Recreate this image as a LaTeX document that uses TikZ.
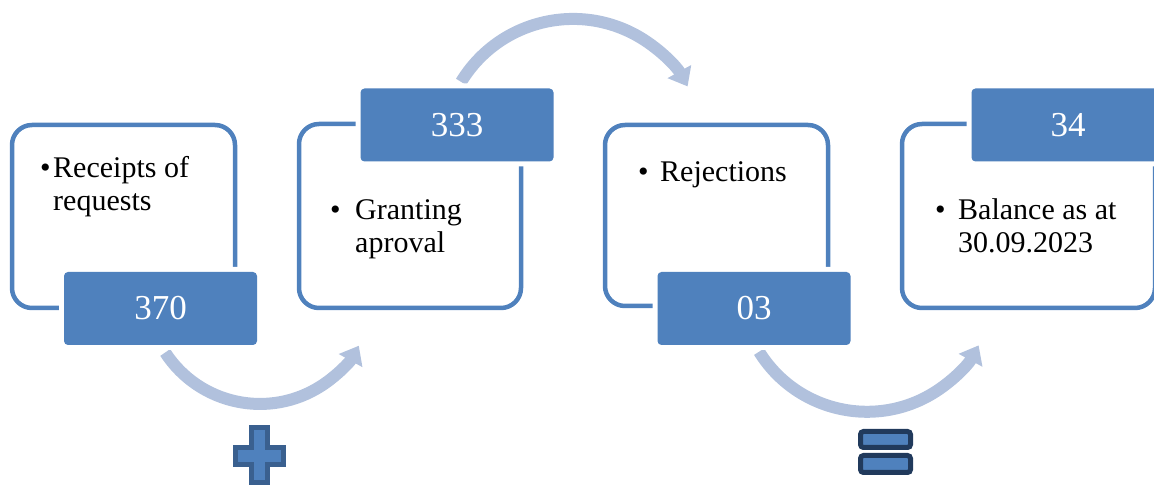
\documentclass[tikz,border=0pt]{standalone}
\usepackage{fontspec}
\setmainfont{Liberation Serif}
\usetikzlibrary{arrows.meta}

\definecolor{boxblue}{RGB}{79,129,189}
\definecolor{flowblue}{RGB}{177,193,221}
\definecolor{plusedge}{RGB}{58,96,143}
\definecolor{eqedge}{RGB}{33,58,92}

\tikzset{
  outbox/.style={draw=boxblue, line width=4.5pt, rounded corners=20pt},
  numbox/.style={fill=boxblue, rounded corners=4pt, text=white,
    font=\fontsize{35}{40}\selectfont, minimum width=193pt, minimum height=73pt,
    preaction={draw=white, line width=10pt}},
  itemtext/.style={anchor=base west, inner sep=0pt, font=\fontsize{30}{33}\selectfont},
  flow/.style={draw=flowblue, line width=12pt, -{Triangle[length=17pt,width=26pt]}},
  signshape/.style={fill=boxblue, line width=5pt}
}

\begin{document}
\begin{tikzpicture}[x=1pt,y=1pt]
            \clip (0,0) rectangle (1154,486);

            % curved flows between the steps
            \coordinate (f1) at (165.2,133.5);
            \draw[flow] (f1) arc[start angle=213, end angle=331, radius=113];
            \coordinate (f2) at (461.1,404.1);
            \draw[flow] (f2) arc[start angle=148.7, end angle=29, radius=131];
            \coordinate (f3) at (759.1,134.3);
            \draw[flow] (f3) arc[start angle=211.8, end angle=331.5, radius=127];

            % step frames
            \node[outbox, minimum width=223pt, minimum height=183pt] (recv) at (123.5,269.5) {};
            \node[outbox, minimum width=222pt, minimum height=184pt] (grant) at (410,270) {};
            \node[outbox, minimum width=223pt, minimum height=181pt] (reject) at (716.5,270.5) {};
            \node[outbox, minimum width=253pt, minimum height=184pt] (bal) at (1028.5,270) {};

            % figures
            \node[numbox] (n370) at (160.5,177.5) {370};
            \node[numbox] (n333) at (457,361) {333};
            \node[numbox] (n03) at (754,177.5) {03};
            \node[numbox] (n34) at (1068,361) {34};

            % texts
            \node[itemtext] (recvdot) at (40,308) {\textbullet};
            \node[itemtext] (recvtxt) at (53,308) {\parbox[t]{170pt}{Receipts of\\requests}};
            \node[itemtext] (grantdot) at (330,266) {\textbullet};
            \node[itemtext] (granttxt) at (355,266) {\parbox[t]{160pt}{Granting\\aproval}};
            \node[itemtext] (rejectdot) at (638,304) {\textbullet};
            \node[itemtext] (rejecttxt) at (660,304) {Rejections};
            \node[itemtext] (baldot) at (935,266) {\textbullet};
            \node[itemtext] (baltxt) at (958,266) {\parbox[t]{180pt}{Balance as at\\30.09.2023}};

            % plus and equals signs
            \draw[signshape, draw=plusedge] (251.5,58.5) -- (267.5,58.5) -- (267.5,38.5)
                -- (283.5,38.5) -- (283.5,21.5) -- (267.5,21.5) -- (267.5,3.5)
                -- (251.5,3.5) -- (251.5,21.5) -- (235.5,21.5) -- (235.5,38.5)
                -- (251.5,38.5) -- cycle;
            \draw[signshape, draw=eqedge, rounded corners=3pt] (860.5,38.5) rectangle (910.5,54.5);
            \draw[signshape, draw=eqedge, rounded corners=3pt] (860.5,13.5) rectangle (910.5,30.5);
        \end{tikzpicture}
\end{document}
